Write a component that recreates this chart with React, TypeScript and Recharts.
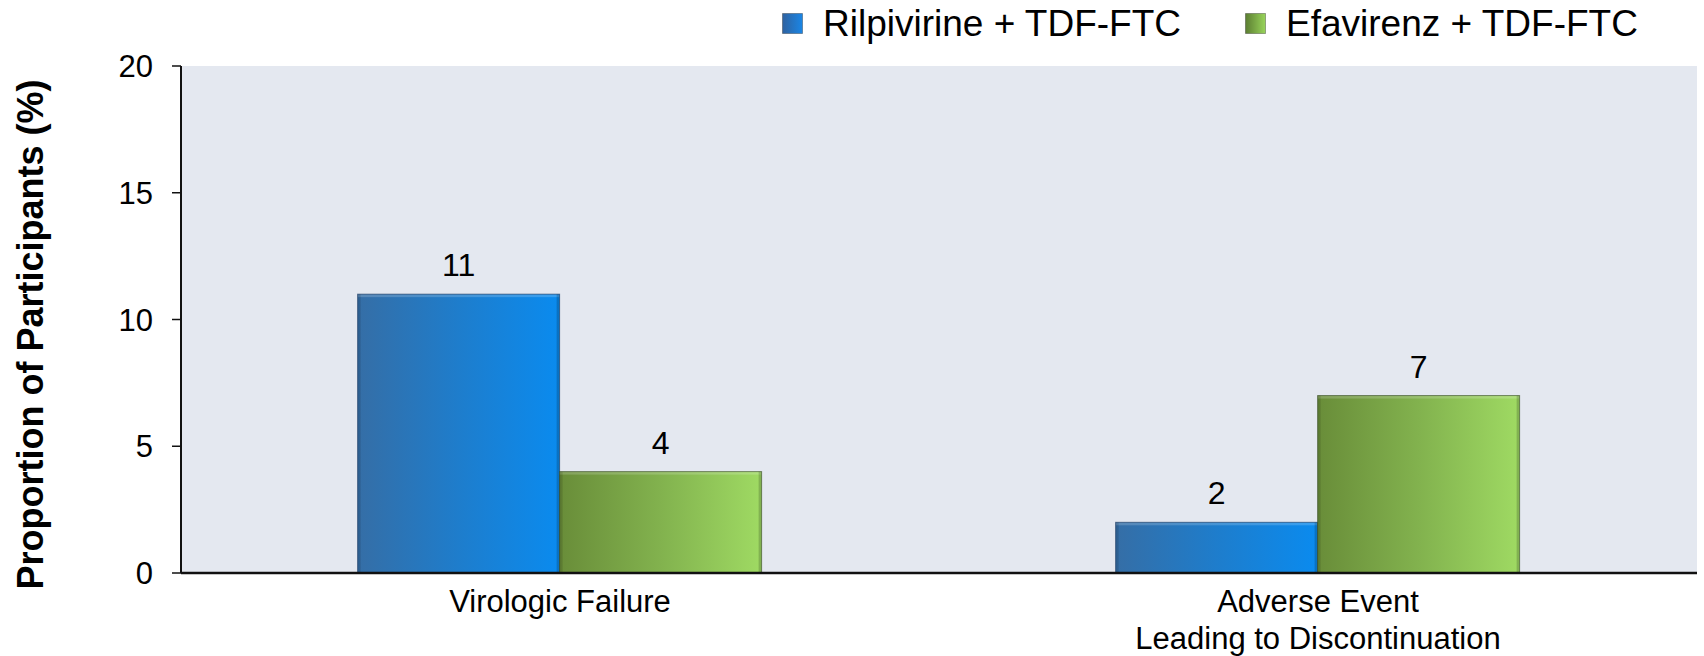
import React from 'react';
import { BarChart, Bar, XAxis, YAxis, CartesianGrid, LabelList, Label } from 'recharts';

const categories = ['Virologic Failure', 'Adverse Event\nLeading to Discontinuation'];
const rilpivirine = [11, 2];
const efavirenz = [4, 7];
const yTicks = [0, 5, 10, 15, 20];
const seriesNames = ['Rilpivirine + TDF-FTC', 'Efavirenz + TDF-FTC'];

const data = categories.map((name, i) => ({
  name,
  ril: rilpivirine[i],
  efv: efavirenz[i],
}));

const FONT = '"Liberation Sans", Arial, sans-serif';
const W = 1704;
const H = 656;

const BevelBar = (props: any) => {
  const { x, y, width, height, gradId, edge } = props;
  if (!height || height <= 0) return null;
  return (
    <g>
      <rect x={x} y={y} width={width} height={height} fill={`url(#${gradId})`} />
      <rect x={x} y={y} width={width} height={Math.min(3, height)} fill="rgba(255,255,255,0.18)" />
      <rect x={x + width - 3} y={y} width={3} height={height} fill="rgba(0,0,0,0.18)" />
      <rect x={x} y={y} width={3} height={height} fill="rgba(0,0,0,0.12)" />
      <rect x={x} y={y} width={width} height={height} fill="none" stroke={edge} strokeWidth={1} />
    </g>
  );
};

const CategoryTick = (props: any) => {
  const { x, y, payload } = props;
  const lines = String(payload.value).split('\n');
  return (
    <text x={x} y={y} textAnchor="middle" fontSize={31} fontFamily={FONT} fill="#000">
      {lines.map((l, i) => (
        <tspan key={i} x={x} dy={i === 0 ? 39 : 37}>
          {l}
        </tspan>
      ))}
    </text>
  );
};

const YTitle = (props: any) => {
  const vb = props.viewBox || { x: 0, y: 0, height: 0 };
  const cx = vb.x + 43;
  const cy = vb.y + vb.height / 2 + 15;
  return (
    <text
      x={cx}
      y={cy}
      textAnchor="middle"
      transform={`rotate(-90, ${cx}, ${cy})`}
      fontSize={36}
      fontWeight="bold"
      fontFamily={FONT}
      fill="#000"
    >
      Proportion of Participants (%)
    </text>
  );
};

const Swatch = ({ gradId }: { gradId: string }) => (
  <svg width={21} height={21} style={{ display: 'block' }}>
    <defs>
      <linearGradient id={gradId} x1="0" y1="0" x2="1" y2="0">
        {gradId.startsWith('lgBlue') ? (
          <>
            <stop offset="0%" stopColor="#2f62a0" />
            <stop offset="100%" stopColor="#1a86e6" />
          </>
        ) : (
          <>
            <stop offset="0%" stopColor="#5c7e32" />
            <stop offset="100%" stopColor="#98d45a" />
          </>
        )}
      </linearGradient>
    </defs>
    <rect x={0.5} y={0.5} width={20} height={20} fill={`url(#${gradId})`} stroke="rgba(0,0,0,0.3)" />
  </svg>
);

const App: React.FC = () => {
  return (
    <div style={{ position: 'absolute', left: 0, top: 0, width: W, height: H, background: '#fff', fontFamily: FONT }}>
      <div style={{ position: 'absolute', top: 13, left: 782, display: 'flex', alignItems: 'center', height: 21 }}>
        {seriesNames.map((s, i) => (
          <div key={s} style={{ display: 'flex', alignItems: 'center', width: i === 0 ? 463 : undefined }}>
            <Swatch gradId={i === 0 ? 'lgBlue' : 'lgGreen'} />
            <span style={{ marginLeft: 20, fontSize: 37, lineHeight: '37px', color: '#000', whiteSpace: 'nowrap' }}>{s}</span>
          </div>
        ))}
      </div>
      <BarChart
        width={W}
        height={H}
        data={data}
        margin={{ top: 66, right: 7, bottom: 0, left: 0 }}
        barCategoryGap="23.3%"
        barGap={0}
      >
        <defs>
          <linearGradient id="gBlue" x1="0" y1="0" x2="1" y2="0">
            <stop offset="0%" stopColor="#356ea6" />
            <stop offset="50%" stopColor="#1e7dcc" />
            <stop offset="100%" stopColor="#0a8bef" />
          </linearGradient>
          <linearGradient id="gGreen" x1="0" y1="0" x2="1" y2="0">
            <stop offset="0%" stopColor="#698d39" />
            <stop offset="50%" stopColor="#82b24e" />
            <stop offset="100%" stopColor="#9fda63" />
          </linearGradient>
        </defs>
        <CartesianGrid fill="#e4e8f0" horizontal={false} vertical={false} />
        <XAxis
          xAxisId="edges"
          type="number"
          domain={[0, 2]}
          ticks={[0, 1, 2]}
          allowDataOverflow
          height={0}
          tick={false}
          axisLine={false}
          tickSize={10}
          tickLine={{ stroke: '#222', strokeWidth: 2 }}
        />
        <XAxis
          dataKey="name"
          height={83}
          tickLine={false}
          tickSize={0}
          tickMargin={0}
          interval={0}
          axisLine={{ stroke: '#111', strokeWidth: 2.5 }}
          tick={<CategoryTick />}
        />
        <XAxis
          xAxisId="top"
          orientation="top"
          type="number"
          domain={[0, 1]}
          allowDataOverflow
          height={0}
          tick={false}
          tickLine={false}
          axisLine={{ stroke: '#111', strokeWidth: 1.5 }}
        />
        <YAxis
          domain={[0, 20]}
          ticks={yTicks}
          width={181}
          tickSize={9}
          tickMargin={19}
          axisLine={{ stroke: '#111', strokeWidth: 2 }}
          tickLine={{ stroke: '#111', strokeWidth: 1.5 }}
          tick={{ fill: '#000', fontSize: 31, fontFamily: FONT }}
        >
          <Label content={<YTitle />} />
        </YAxis>
        <YAxis
          yAxisId="right"
          orientation="right"
          width={0}
          tick={false}
          tickLine={false}
          axisLine={{ stroke: '#111', strokeWidth: 2 }}
        />
        <Bar
          dataKey="ril"
          name={seriesNames[0]}
          isAnimationActive={false}
          shape={<BevelBar gradId="gBlue" edge="rgba(20,50,90,0.6)" />}
        >
          <LabelList dataKey="ril" position="top" offset={18} fill="#000" fontSize={32} fontFamily={FONT} />
        </Bar>
        <Bar
          dataKey="efv"
          name={seriesNames[1]}
          isAnimationActive={false}
          shape={<BevelBar gradId="gGreen" edge="rgba(50,70,30,0.6)" />}
        >
          <LabelList dataKey="efv" position="top" offset={18} fill="#000" fontSize={32} fontFamily={FONT} />
        </Bar>
      </BarChart>
    </div>
  );
};

export default App;
